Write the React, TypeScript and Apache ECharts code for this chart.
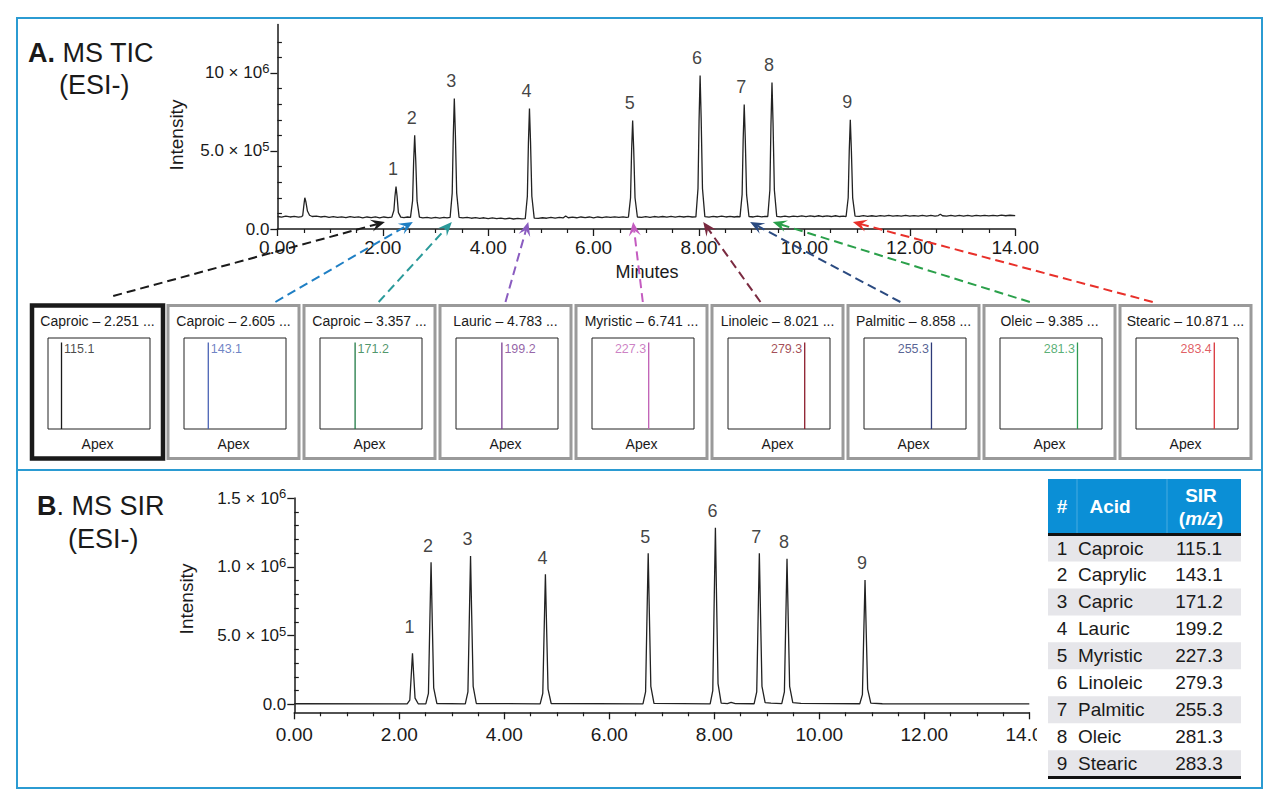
import React, { useEffect, useRef } from "react";
import * as echarts from "echarts";

const FONT = "'Liberation Sans', Arial, Helvetica, sans-serif";
const TXT = "#1a1a1a";

// ---------------- data ----------------
const peakNumbers = [1, 2, 3, 4, 5, 6, 7, 8, 9];
const peakTimes = [2.251, 2.605, 3.357, 4.783, 6.741, 8.021, 8.858, 9.385, 10.871];
const ticPeakHeights = [2.72, 6.0, 8.37, 7.72, 6.96, 9.84, 7.98, 9.39, 7.0];
const sirPeakHeights = [0.371, 1.033, 1.079, 0.945, 1.098, 1.284, 1.098, 1.059, 0.904];

const ticTrace = [
  [0.0, 0.8], [0.08, 0.76], [0.16, 0.82], [0.24, 0.77], [0.32, 0.81], [0.4, 0.76], [0.46, 0.8],
  [0.48, 0.85], [0.5, 1.45], [0.52, 2.0], [0.54, 1.75], [0.57, 1.15], [0.61, 0.88], [0.66, 0.8],
  [0.74, 0.83], [0.82, 0.77], [0.9, 0.81], [0.98, 0.75], [1.06, 0.8], [1.14, 0.74], [1.22, 0.78],
  [1.3, 0.73], [1.38, 0.79], [1.46, 0.74], [1.54, 0.78], [1.62, 0.72], [1.7, 0.77], [1.78, 0.73],
  [1.86, 0.78], [1.94, 0.72], [2.02, 0.77], [2.1, 0.73],
  [2.171, 0.76], [2.211, 1.2], [2.231, 2.1], [2.251, 2.72], [2.271, 2.1], [2.296, 1.05], [2.341, 0.76],
  [2.4, 0.73], [2.47, 0.77],
  [2.525, 0.75], [2.565, 1.8], [2.585, 4.3], [2.605, 6.0], [2.625, 4.4], [2.65, 1.8], [2.695, 0.76],
  [2.76, 0.71], [2.84, 0.75], [2.92, 0.7], [3.0, 0.74], [3.08, 0.7], [3.16, 0.75], [3.22, 0.71],
  [3.277, 0.74], [3.317, 2.3], [3.337, 5.9], [3.357, 8.37], [3.377, 6.1], [3.402, 2.3], [3.447, 0.75],
  [3.52, 0.71], [3.6, 0.74], [3.68, 0.69], [3.76, 0.73], [3.84, 0.68], [3.92, 0.72], [4.0, 0.67],
  [4.08, 0.71], [4.16, 0.66], [4.24, 0.7], [4.32, 0.65], [4.4, 0.69], [4.48, 0.64], [4.56, 0.68], [4.64, 0.65],
  [4.703, 0.66], [4.743, 2.1], [4.763, 5.5], [4.783, 7.72], [4.803, 5.6], [4.828, 2.1], [4.873, 0.7],
  [4.95, 0.68], [5.03, 0.72], [5.11, 0.69], [5.19, 0.74], [5.27, 0.7], [5.35, 0.75], [5.42, 0.71],
  [5.47, 0.83], [5.52, 0.72], [5.6, 0.76], [5.68, 0.72], [5.76, 0.77], [5.84, 0.73], [5.92, 0.77],
  [6.0, 0.72], [6.08, 0.77], [6.16, 0.73], [6.24, 0.78], [6.32, 0.74], [6.4, 0.78], [6.48, 0.74],
  [6.56, 0.78], [6.62, 0.75],
  [6.661, 0.76], [6.701, 2.0], [6.721, 5.0], [6.741, 6.96], [6.761, 5.1], [6.786, 2.0], [6.831, 0.77],
  [6.91, 0.74], [6.99, 0.79], [7.07, 0.75], [7.15, 0.8], [7.23, 0.76], [7.31, 0.8], [7.39, 0.76],
  [7.47, 0.81], [7.55, 0.76], [7.63, 0.81], [7.71, 0.77], [7.79, 0.81], [7.87, 0.77],
  [7.941, 0.78], [7.981, 2.6], [8.001, 6.9], [8.021, 9.84], [8.041, 7.1], [8.066, 2.6], [8.111, 0.79],
  [8.19, 0.76], [8.27, 0.81], [8.35, 0.77], [8.43, 0.82], [8.51, 0.77], [8.59, 0.81], [8.67, 0.77], [8.73, 0.8],
  [8.778, 0.78], [8.818, 2.2], [8.838, 5.7], [8.858, 7.98], [8.878, 5.8], [8.903, 2.2], [8.948, 0.8],
  [9.03, 0.77], [9.11, 0.82], [9.19, 0.78], [9.25, 0.81],
  [9.305, 0.8], [9.345, 2.5], [9.365, 6.6], [9.385, 9.39], [9.405, 6.8], [9.43, 2.5], [9.475, 0.81],
  [9.55, 0.78], [9.63, 0.83], [9.71, 0.78], [9.79, 0.83], [9.87, 0.79], [9.95, 0.84], [10.03, 0.79],
  [10.11, 0.84], [10.19, 0.8], [10.27, 0.85], [10.35, 0.8], [10.43, 0.84], [10.51, 0.8], [10.59, 0.85],
  [10.67, 0.8], [10.74, 0.83],
  [10.791, 0.8], [10.831, 2.0], [10.851, 5.0], [10.871, 7.0], [10.891, 5.1], [10.916, 2.0], [10.961, 0.82],
  [11.04, 0.81], [11.12, 0.86], [11.2, 0.81], [11.28, 0.85], [11.36, 0.81], [11.44, 0.86], [11.52, 0.82],
  [11.6, 0.87], [11.68, 0.82], [11.76, 0.86], [11.84, 0.82], [11.92, 0.87], [12.0, 0.82], [12.08, 0.86],
  [12.16, 0.82], [12.24, 0.87], [12.32, 0.83], [12.4, 0.87], [12.48, 0.83], [12.54, 0.86], [12.58, 0.95],
  [12.62, 0.85], [12.7, 0.83], [12.78, 0.87], [12.86, 0.83], [12.94, 0.88], [13.02, 0.83], [13.1, 0.87],
  [13.18, 0.83], [13.26, 0.88], [13.34, 0.84], [13.42, 0.88], [13.5, 0.84], [13.58, 0.88], [13.66, 0.84],
  [13.74, 0.89], [13.82, 0.85], [13.9, 0.88], [14.0, 0.86],
];

const sirTrace = [
  [0.0, 0.004], [2.15, 0.003],
  [2.2, 0.03], [2.226, 0.2], [2.251, 0.371], [2.273, 0.22], [2.3, 0.045], [2.36, 0.004],
  [2.505, 0.003], [2.555, 0.08], [2.58, 0.57], [2.605, 1.033], [2.627, 0.62], [2.655, 0.12], [2.715, 0.006],
  [3.257, 0.003], [3.307, 0.09], [3.332, 0.59], [3.357, 1.079], [3.379, 0.65], [3.407, 0.13], [3.467, 0.006],
  [4.683, 0.003], [4.733, 0.08], [4.758, 0.52], [4.783, 0.945], [4.805, 0.57], [4.833, 0.11], [4.893, 0.006],
  [6.641, 0.003], [6.691, 0.09], [6.716, 0.6], [6.741, 1.098], [6.763, 0.66], [6.791, 0.13], [6.851, 0.007],
  [7.921, 0.003], [7.971, 0.1], [7.996, 0.71], [8.021, 1.284], [8.043, 0.77], [8.071, 0.15], [8.131, 0.008],
  [8.25, 0.005], [8.32, 0.014], [8.4, 0.005],
  [8.758, 0.004], [8.808, 0.09], [8.833, 0.6], [8.858, 1.098], [8.88, 0.66], [8.908, 0.13], [8.968, 0.012], [9.08, 0.008],
  [9.285, 0.005], [9.335, 0.09], [9.36, 0.58], [9.385, 1.059], [9.407, 0.64], [9.435, 0.13], [9.495, 0.012], [9.65, 0.007],
  [10.771, 0.004], [10.821, 0.07], [10.846, 0.5], [10.871, 0.904], [10.893, 0.54], [10.921, 0.11], [10.981, 0.008],
  [11.2, 0.004], [14.0, 0.003],
];

const boxAcids = ["Caproic", "Caproic", "Caproic", "Lauric", "Myristic", "Linoleic", "Palmitic", "Oleic", "Stearic"];
const boxTimeLabels = ["2.251", "2.605", "3.357", "4.783", "6.741", "8.021", "8.858", "9.385", "10.871"];
const boxMz = [115.1, 143.1, 171.2, 199.2, 227.3, 279.3, 255.3, 281.3, 283.4];
const boxMzLabels = ["115.1", "143.1", "171.2", "199.2", "227.3", "279.3", "255.3", "281.3", "283.4"];
const spectrumIntensity = [95, 95, 95, 95, 95, 95, 95, 95, 95];
const mzRange = [80, 345];

const arrowTipTimes = [2.04, 2.57, 3.31, 4.76, 6.75, 8.08, 8.97, 9.4, 10.92];
const arrowTipIntensity = 0.45;

const tableNums = ["1", "2", "3", "4", "5", "6", "7", "8", "9"];
const tableAcids = ["Caproic", "Caprylic", "Capric", "Lauric", "Myristic", "Linoleic", "Palmitic", "Oleic", "Stearic"];
const tableSir = ["115.1", "143.1", "171.2", "199.2", "227.3", "279.3", "255.3", "281.3", "283.3"];

const ticLabelValues = [0, 5, 10];
const ticMinorValues = [1, 2, 3, 4, 6, 7, 8, 9, 11, 12];
const sirLabelValues = [0, 0.5, 1.0, 1.5];
const sirMinorValues = [0.1, 0.2, 0.3, 0.4, 0.6, 0.7, 0.8, 0.9, 1.1, 1.2, 1.3, 1.4];

// ---------------- styles / layout ----------------
const spectrumColors = ["#1a1a1a", "#4a63b5", "#1f7a45", "#7a3c91", "#c05fb5", "#8c1c2c", "#2d3a78", "#2e9a52", "#d8343a"];
const arrowColors = ["#1a1a1a", "#1f7fc4", "#2a9a9a", "#8a5cc0", "#c45cc0", "#7a2a40", "#2a4a80", "#2aa04a", "#e8302a"];
const arrowStartFrac = [0.62, 0.82, 0.57, 0.5, 0.51, 0.37, 0.4, 0.35, 0.25];
const BOX_X0 = 32, BOX_PITCH = 136, BOX_W = 131, BOX_TOP = 305.5, BOX_H = 153;
const INNER_TOP = 338, INNER_H = 91, INNER_DX = 16, INNER_W = 102;
const boxLeft = (i: number) => BOX_X0 + BOX_PITCH * i;

const supRich = {
  n: { fontSize: 17, color: TXT, fontFamily: FONT, lineHeight: 22 },
  s: { fontSize: 13, color: TXT, fontFamily: FONT, lineHeight: 10, verticalAlign: "top" },
};

function ticLabel(v: number) {
  if (v === 0) return "{n|0.0}";
  if (v === 5) return "{n|5.0 × 10}{s|5}";
  if (v === 10) return "{n|10 × 10}{s|6}";
  return "";
}
function sirLabel(v: number) {
  if (v === 0) return "{n|0.0}";
  if (Math.abs(v - 0.5) < 1e-9) return "{n|5.0 × 10}{s|5}";
  if (Math.abs(v - 1) < 1e-9) return "{n|1.0 × 10}{s|6}";
  if (Math.abs(v - 1.5) < 1e-9) return "{n|1.5 × 10}{s|6}";
  return "";
}

function mainX(gridIndex: number, margin: number) {
  return {
    type: "value", gridIndex, min: 0, max: 14, interval: 2,
    axisLine: { show: true, onZero: false, lineStyle: { color: TXT, width: 1.5 } },
    axisTick: { show: true, length: 7, lineStyle: { color: TXT, width: 1.3 } },
    minorTick: { show: true, splitNumber: 4, length: 4, lineStyle: { color: TXT, width: 1.2 } },
    splitLine: { show: false },
    minorSplitLine: { show: false },
    axisLabel: { margin, fontSize: 19, color: TXT, fontFamily: FONT, formatter: (v: number) => v.toFixed(2) },
  };
}

function mainY(gridIndex: number, min: number, max: number, labelVals: number[], fmt: (v: number) => string) {
  return {
    type: "value", gridIndex, min, max,
    axisLine: { show: true, onZero: false, lineStyle: { color: TXT, width: 1.5 } },
    axisTick: { show: true, length: 7, customValues: labelVals, lineStyle: { color: TXT, width: 1.3 } },
    splitLine: { show: false },
    axisLabel: { show: true, margin: 8, customValues: labelVals, formatter: fmt, rich: supRich, align: "right" },
  };
}
function minorY(gridIndex: number, min: number, max: number, tickVals: number[]) {
  return {
    type: "value", gridIndex, min, max,
    axisLine: { show: false },
    axisTick: { show: true, length: 4.5, customValues: tickVals, lineStyle: { color: TXT, width: 1.2 } },
    splitLine: { show: false },
    axisLabel: { show: false },
  };
}

function buildOption() {
  const grids: any[] = [
    { left: 277.4, top: 24.6, width: 737.8, height: 204.4 },
    { left: 294.3, top: 498, width: 735, height: 214.3 },
  ];
  const xAxes: any[] = [mainX(0, 9), mainX(1, 13)];
  const yAxes: any[] = [
    mainY(0, 0, 13.1, ticLabelValues, ticLabel),
    minorY(0, 0, 13.1, ticMinorValues),
    mainY(1, -0.058, 1.5, sirLabelValues, sirLabel),
    minorY(1, -0.058, 1.5, sirMinorValues),
  ];
  const peakLabel = (distance: number) => ({
    show: true, position: "top", distance, offset: [-3, 0], fontSize: 18, color: "#111", fontFamily: FONT,
    formatter: (p: any) => String(peakNumbers[p.dataIndex]),
  });
  const series: any[] = [
    {
      type: "line", xAxisIndex: 0, yAxisIndex: 0, data: ticTrace, symbol: "none",
      lineStyle: { color: "#222", width: 1.3 }, silent: true,
    },
    {
      type: "line", xAxisIndex: 1, yAxisIndex: 2, data: sirTrace, symbol: "none",
      lineStyle: { color: "#222", width: 1.3 }, silent: true,
    },
    {
      type: "scatter", xAxisIndex: 0, yAxisIndex: 0, symbolSize: 1,
      itemStyle: { color: "rgba(0,0,0,0)" }, silent: true,
      data: peakTimes.map((t, i) => [t, ticPeakHeights[i]]),
      label: peakLabel(8),
    },
    {
      type: "scatter", xAxisIndex: 1, yAxisIndex: 2, symbolSize: 1,
      itemStyle: { color: "rgba(0,0,0,0)" }, silent: true,
      data: peakTimes.map((t, i) =>
        i === 0 ? { value: [t, sirPeakHeights[i]], label: { distance: 17 } } : [t, sirPeakHeights[i]]
      ),
      label: peakLabel(7),
    },
  ];

  boxMz.forEach((mz, i) => {
    grids.push({
      left: boxLeft(i) + INNER_DX, top: INNER_TOP, width: INNER_W, height: INNER_H,
      show: true, borderColor: "#222", borderWidth: 1, backgroundColor: "#fff",
    });
    xAxes.push({ type: "value", gridIndex: 2 + i, min: mzRange[0], max: mzRange[1], show: false });
    yAxes.push({ type: "value", gridIndex: 2 + i, min: 0, max: 100, show: false });
    const right = mz < 210;
    series.push({
      type: "line", xAxisIndex: 2 + i, yAxisIndex: 4 + i, symbol: "none", silent: true,
      data: [[mz, 0], [mz, spectrumIntensity[i]]],
      lineStyle: { color: spectrumColors[i], width: 1.3 },
    });
    series.push({
      type: "scatter", xAxisIndex: 2 + i, yAxisIndex: 4 + i, symbolSize: 1, silent: true,
      itemStyle: { color: "rgba(0,0,0,0)" },
      data: [[mz, spectrumIntensity[i]]],
      label: {
        show: true, position: right ? "right" : "left", distance: 2, offset: [0, 6],
        fontSize: 12.5, color: spectrumColors[i], fontFamily: FONT,
        formatter: () => boxMzLabels[i],
      },
    });
  });

  return {
    animation: false,
    backgroundColor: "#fff",
    textStyle: { fontFamily: FONT },
    grid: grids,
    xAxis: xAxes,
    yAxis: yAxes,
    series,
  };
}

function buildGraphics(chart: any) {
  const els: any[] = [];
  const Z = 100;
  const txt = (text: string, x: number, y: number, extra: any = {}) => ({
    type: "text", x, y, z: Z,
    style: {
      text, fill: TXT, fontFamily: FONT, fontSize: 18, textAlign: "center", textVerticalAlign: "middle",
      ...extra,
    },
  });

  // panel frames
  els.push({ type: "rect", z: Z, shape: { x: 17, y: 18, width: 1245, height: 452 }, style: { fill: "none", stroke: "#2b9bd2", lineWidth: 2 } });
  els.push({ type: "rect", z: Z, shape: { x: 17, y: 470, width: 1245, height: 318 }, style: { fill: "none", stroke: "#2b9bd2", lineWidth: 2 } });

  // panel titles
  const titleRich = {
    b: { fontSize: 27, fontWeight: "bold", fill: TXT, fontFamily: FONT },
    r: { fontSize: 27, fill: TXT, fontFamily: FONT },
  };
  els.push(txt("{b|A.}{r| MS TIC}", 28, 53, { textAlign: "left", rich: titleRich, fontSize: 27 }));
  els.push(txt("(ESI-)", 59, 85, { textAlign: "left", fontSize: 27 }));
  els.push(txt("{b|B}{r|. MS SIR}", 37, 506, { textAlign: "left", rich: titleRich, fontSize: 27 }));
  els.push(txt("(ESI-)", 68, 539, { textAlign: "left", fontSize: 27 }));

  // axis names
  els.push({ ...txt("Intensity", 176, 135, { fontSize: 19 }), rotation: Math.PI / 2 });
  els.push({ ...txt("Intensity", 186, 599, { fontSize: 19 }), rotation: Math.PI / 2 });
  els.push(txt("Minutes", 647, 272));

  // spectrum boxes
  boxAcids.forEach((acid, i) => {
    const x = boxLeft(i);
    const first = i === 0;
    els.push({
      type: "rect", z: Z - 1,
      shape: { x, y: BOX_TOP, width: BOX_W, height: BOX_H },
      style: { fill: "none", stroke: first ? "#1a1a1a" : "#9a9a9a", lineWidth: first ? 4.5 : 3 },
    });
    els.push(txt(`${acid} – ${boxTimeLabels[i]} ...`, x + BOX_W / 2, 321, { fontSize: 14 }));
    els.push(txt("Apex", x + BOX_W / 2, 444, { fontSize: 14 }));
  });

  // arrows
  arrowTipTimes.forEach((t, i) => {
    const tip = chart.convertToPixel({ seriesIndex: 0 }, [t, arrowTipIntensity]);
    const sx = boxLeft(i) + arrowStartFrac[i] * BOX_W;
    const sy = i === 0 ? 296 : 302;
    const tx = tip[0], ty = tip[1];
    const dx = tx - sx, dy = ty - sy;
    const len = Math.hypot(dx, dy);
    const ux = dx / len, uy = dy / len;
    const nx = -uy, ny = ux;
    const L = 14, W = 6;
    const bx = tx - ux * L, by = ty - uy * L;
    const kx = tx - ux * L * 0.6, ky = ty - uy * L * 0.6;
    const color = arrowColors[i];
    els.push({
      type: "line", z: Z + 1,
      shape: { x1: sx, y1: sy, x2: kx, y2: ky },
      style: { stroke: color, lineWidth: 2, lineDash: [9, 5] },
    });
    els.push({
      type: "polygon", z: Z + 1,
      shape: { points: [[tx, ty], [bx + nx * W, by + ny * W], [kx, ky], [bx - nx * W, by - ny * W]] },
      style: { fill: color },
    });
  });

  // table
  const TX = 1048, TW = 193;
  els.push({ type: "rect", z: Z, shape: { x: 1037, y: 474, width: 212, height: 310 }, style: { fill: "#fff" } });
  els.push({ type: "rect", z: Z, shape: { x: TX, y: 479, width: TW, height: 54 }, style: { fill: "#0b8fd6" } });
  els.push({ type: "line", z: Z, shape: { x1: 1077, y1: 479, x2: 1077, y2: 533 }, style: { stroke: "rgba(255,255,255,0.25)", lineWidth: 1 } });
  els.push({ type: "line", z: Z, shape: { x1: 1167, y1: 479, x2: 1167, y2: 533 }, style: { stroke: "rgba(255,255,255,0.25)", lineWidth: 1 } });
  const hdr = { fill: "#fff", fontWeight: "bold", fontSize: 19 };
  els.push(txt("#", 1062, 506, hdr));
  els.push(txt("Acid", 1110, 506, hdr));
  els.push(txt("SIR", 1201, 495, hdr));
  els.push(txt("{p|(}{i|m/z}{p|)}", 1201, 518, {
    ...hdr,
    rich: {
      p: { fill: "#fff", fontWeight: "bold", fontSize: 19, fontFamily: FONT },
      i: { fill: "#fff", fontWeight: "bold", fontStyle: "italic", fontSize: 19, fontFamily: FONT },
    },
  }));
  const RH = 26.95;
  tableAcids.forEach((acid, i) => {
    const cy = 548 + RH * i;
    if (i % 2 === 0) {
      els.push({ type: "rect", z: Z, shape: { x: TX, y: cy - RH / 2, width: TW, height: RH }, style: { fill: "#e6e6ea" } });
    }
    els.push(txt(tableNums[i], 1062, cy, { fontSize: 19 }));
    els.push(txt(acid, 1078, cy, { fontSize: 19, textAlign: "left" }));
    els.push(txt(tableSir[i], 1199, cy, { fontSize: 19 }));
  });
  els.push({ type: "rect", z: Z + 1, shape: { x: TX, y: 533, width: TW, height: 3 }, style: { fill: "#111" } });
  els.push({ type: "rect", z: Z + 1, shape: { x: TX, y: 776, width: TW, height: 3 }, style: { fill: "#111" } });

  return els;
}

export default function App() {
  const ref = useRef<HTMLDivElement>(null);
  useEffect(() => {
    const el = ref.current;
    if (!el) return;
    const chart = echarts.init(el, null, { renderer: "svg" });
    chart.setOption(buildOption() as any);
    chart.setOption({ graphic: { elements: buildGraphics(chart) } } as any);
    return () => chart.dispose();
  }, []);
  return (
    <div
      ref={ref}
      style={{ position: "fixed", left: 0, top: 0, width: 1280, height: 807, background: "#fff" }}
    />
  );
}
